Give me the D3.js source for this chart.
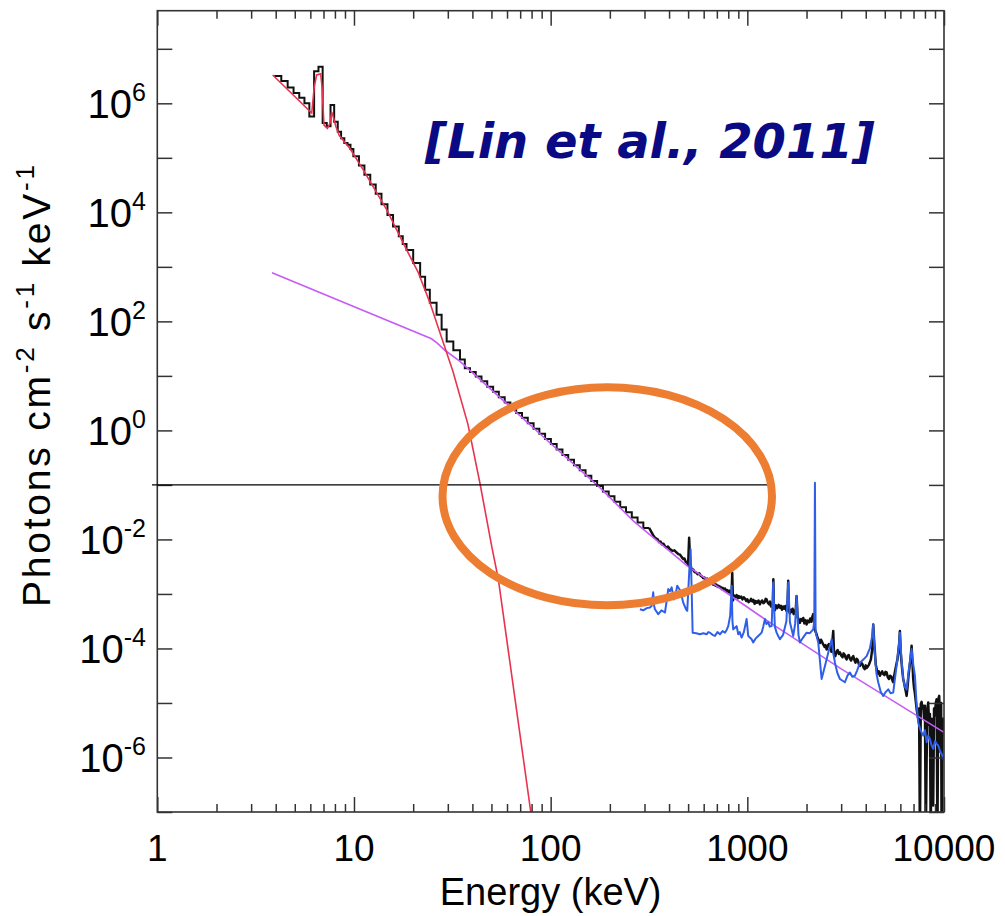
<!DOCTYPE html>
<meta charset="utf-8">
<style>
    body { margin: 0; background: #fff; }
    text { font-family: "Liberation Sans", Arial, sans-serif; fill: #000; }
    .tick line { stroke: #333; stroke-width: 1.5px; }
    .domain { display: none; }
</style>
<svg width="1005" height="916"></svg>
<script src="https://d3js.org/d3.v7.min.js"></script>
<script>

    // axis ticks and labels
    var energyTicks = [1, 10, 100, 1000, 10000];
    var energyTickLabels = ["1", "10", "100", "1000", "10000"];
    var fluxDecades = [-7, -6, -5, -4, -3, -2, -1, 0, 1, 2, 3, 4, 5, 6, 7];
    var fluxLabelExps = [-6, -4, -2, 0, 2, 4, 6];

    // observed count spectrum, low energy part (histogram: bin edges in keV, log10 flux per bin)
    var blackLoEdges = [3.93, 4.27, 4.6, 4.93, 5.27, 5.6, 5.93, 6.27, 6.6, 6.93, 7.27, 7.6, 7.93, 8.27, 8.6, 8.93,
        9.27, 9.6, 9.93, 10.6, 11.3, 12.1, 12.9, 13.8, 14.8, 15.8, 16.9, 17.7, 18.5, 20.0, 21.7, 23.0, 24.3, 26.3,
        27.9, 29.6, 32.0, 34.6, 36.6, 38.9, 41.6, 44.5, 47.6, 51.0, 54.5, 58.4, 62.4, 66.8, 71.5, 76.5, 81.9, 87.6,
        93.7, 100.3, 107.3, 114.8, 122.8, 131.4, 140.6, 150.5, 161, 172.3, 184.4, 197.3, 211.1, 225.8, 241.6, 258.6,
        276.7, 296, 316.7];
    var blackLoLogF = [6.50, 6.41, 6.29, 6.19, 6.10, 6.00, 5.76, 6.59, 6.67, 5.64, 5.58, 5.97, 5.66, 5.48, 5.36, 5.27,
        5.24, 5.16, 5.03, 4.86, 4.69, 4.51, 4.34, 4.15, 3.95, 3.74, 3.56, 3.42, 3.31, 3.07, 2.82, 2.58, 2.34, 2.12,
        1.85, 1.63, 1.47, 1.30, 1.14, 1.07, 0.99, 0.90, 0.80, 0.71, 0.61, 0.51, 0.42, 0.32, 0.23, 0.13, 0.03, -0.06,
        -0.16, -0.25, -0.35, -0.45, -0.54, -0.64, -0.73, -0.83, -0.93, -1.02, -1.12, -1.21, -1.31, -1.41, -1.50,
        -1.60, -1.69, -1.79];

    // observed spectrum, high energy part: [keV, log10 flux]
    var blackHi = [
        [316.7, -1.79], [325, -1.86], [332, -1.92], [339, -1.97], [350, -2.00], [356, -2.05], [362, -2.04],
        [368, -2.09], [375, -2.08], [382, -2.13], [389, -2.15], [395, -2.13], [402, -2.17], [409, -2.19],
        [416, -2.21], [426, -2.20], [437, -2.24], [446, -2.27], [455, -2.28], [463, -2.32], [472, -2.36],
        [479, -2.35], [486, -2.41], [493, -2.42], [500, -2.47], [506, -1.97], [512, -2.43], [521, -2.56],
        [530, -2.55], [540, -2.60], [550, -2.61], [560, -2.64], [570, -2.62], [580, -2.67], [588, -2.68],
        [597, -2.71], [606, -2.70], [615, -2.74], [624, -2.72], [634, -2.77], [643, -2.76], [652, -2.80],
        [661, -2.78], [671, -2.83], [680, -2.81], [690, -2.85], [697, -2.83], [705, -2.87], [713, -2.85],
        [722, -2.88], [731, -2.87], [740, -2.91], [750, -2.89], [760, -2.92], [770, -2.90], [780, -2.94],
        [790, -2.93], [800, -2.96], [809, -2.94], [818, -2.98], [825, -2.95], [832, -2.99], [838, -2.61],
        [845, -3.12], [857, -3.03], [870, -3.06], [882, -3.02], [895, -3.08], [906, -3.04], [917, -3.07],
        [931, -3.05], [945, -3.10], [960, -3.06], [975, -3.09], [987, -3.13], [1000, -3.10], [1015, -3.15],
        [1031, -3.13], [1045, -3.09], [1060, -3.14], [1075, -3.11], [1090, -3.18], [1105, -3.13], [1120, -3.16],
        [1140, -3.12], [1159, -3.19], [1175, -3.14], [1190, -3.12], [1207, -3.17], [1225, -3.15], [1240, -3.09],
        [1253, -3.10], [1270, -3.16], [1290, -3.19], [1305, -3.14], [1320, -3.23], [1335, -3.18], [1350, -3.21],
        [1356, -2.73], [1365, -3.24], [1381, -3.30], [1400, -3.21], [1420, -3.26], [1442, -3.20], [1465, -3.25],
        [1482, -3.22], [1500, -3.29], [1520, -3.23], [1540, -3.27], [1560, -3.22], [1580, -3.31], [1600, -3.25],
        [1614, -2.76], [1625, -3.30], [1647, -3.36], [1665, -3.29], [1680, -3.33], [1700, -3.27], [1720, -3.37],
        [1740, -3.31], [1760, -3.33], [1781, -3.04], [1800, -3.42], [1825, -3.47], [1851, -3.53], [1875, -3.46],
        [1900, -3.49], [1925, -3.44], [1950, -3.54], [1975, -3.48], [2002, -3.56], [2030, -3.49], [2060, -3.52],
        [2090, -3.45], [2120, -3.51], [2140, -3.42], [2163, -3.37], [2190, -3.46], [2207, -3.66], [2240, -3.72],
        [2265, -3.78], [2290, -3.82], [2315, -3.86], [2340, -3.90], [2370, -3.84], [2400, -3.88], [2435, -3.93],
        [2470, -3.97], [2500, -3.94], [2531, -4.02], [2565, -3.95], [2600, -3.92], [2640, -4.00], [2680, -4.06],
        [2734, -3.68], [2760, -4.10], [2800, -4.14], [2840, -4.06], [2880, -4.03], [2920, -4.10], [2957, -4.07],
        [3000, -4.13], [3050, -4.16], [3085, -4.09], [3120, -4.11], [3160, -4.17], [3198, -4.20], [3240, -4.13],
        [3280, -4.12], [3325, -4.19], [3370, -4.22], [3410, -4.17], [3455, -4.14], [3500, -4.21], [3550, -4.26],
        [3595, -4.19], [3640, -4.21], [3690, -4.29], [3737, -4.32], [3790, -4.26], [3850, -4.29], [3900, -4.35],
        [3950, -4.38], [4000, -4.31], [4042, -4.36], [4100, -4.33], [4150, -4.30], [4200, -4.25], [4250, -4.20],
        [4320, -4.00], [4367, -3.56], [4420, -3.90], [4500, -4.30], [4550, -4.38], [4600, -4.46], [4660, -4.42],
        [4722, -4.50], [4790, -4.45], [4850, -4.42], [4910, -4.47], [4980, -4.49], [5040, -4.43], [5108, -4.44],
        [5180, -4.53], [5250, -4.56], [5320, -4.50], [5400, -4.52], [5460, -4.58], [5517, -4.62], [5580, -4.50],
        [5650, -4.40], [5720, -4.30], [5800, -4.20], [5920, -3.90], [5967, -3.68], [6030, -4.10], [6120, -4.36],
        [6202, -4.56], [6260, -4.62], [6320, -4.70], [6390, -4.78], [6454, -4.87], [6530, -4.70], [6600, -4.50],
        [6750, -4.20], [6844, -3.95], [6900, -4.20], [6973, -4.56], [7040, -4.72], [7100, -4.80], [7180, -4.95],
        [7256, -5.11], [7320, -5.20], [7394, -5.29], [7470, -5.10], [7543, -7.5], [7620, -5.02], [7694, -4.98],
        [7770, -5.10], [7841, -5.05], [7920, -5.30], [7998, -5.05], [8080, -7.5], [8160, -6.03], [8240, -5.10],
        [8313, -4.99], [8400, -5.40], [8480, -5.20], [8560, -7.5], [8650, -5.29], [8730, -5.30], [8813, -6.88],
        [8900, -5.10], [8990, -5.23], [9080, -5.00], [9172, -4.93], [9260, -7.5], [9343, -5.00], [9400, -4.90],
        [9454, -4.87], [9530, -5.30], [9610, -5.90], [9670, -5.00], [9723, -7.5], [9810, -5.60], [9906, -5.29],
        [10000, -5.50]
    ];

    // background / blue spectrum (keV, log10 flux)
    var blueE = [284.4, 295.6, 308, 319.7, 326, 332.3, 336, 339, 352.4, 366, 381.2, 390, 396.2, 404, 412.3, 423.5,
        432, 440.2, 449, 458.1, 472.2, 487.4, 494.9, 506.5, 514.9, 521, 527.2, 550, 574.1, 598, 621.1, 633, 645.6,
        665, 684.5, 705, 725.7, 748, 769.4, 785, 799.8, 818, 832.3, 840, 848, 865, 882.5, 899.2, 915, 935.6, 960,
        991.8, 1010.6, 1030, 1051.7, 1071.5, 1100, 1136, 1160, 1182, 1205, 1229, 1250, 1277, 1300, 1329, 1354, 1380,
        1409, 1440, 1465, 1520, 1580, 1614, 1647, 1712, 1750, 1781, 1820, 1851, 1920, 2002, 2080, 2163, 2190, 2207,
        2225, 2294, 2386, 2450, 2531, 2610, 2684, 2740, 2789, 2870, 2957, 3135, 3230, 3323, 3420, 3524, 3620, 3737,
        3900, 4042, 4200, 4300, 4367, 4450, 4530, 4630, 4770, 4909, 5050, 5204, 5350, 5517, 5700, 5880, 5967, 6080,
        6202, 6320, 6454, 6620, 6844, 6980, 7114, 7250, 7394, 7600, 7841, 8000, 8160, 8313, 8480, 8650, 8813, 9000,
        9172, 9343, 9600, 9800, 10000];
    var blueLogF = [-3.28, -3.30, -3.26, -3.25, -3.22, -2.97, -3.22, -3.28, -3.37, -3.30, -3.34, -3.10, -2.91, -2.95,
        -2.88, -3.10, -3.00, -2.85, -2.90, -2.95, -3.16, -3.28, -3.31, -2.60, -2.18, -2.90, -3.71, -3.72, -3.74, -3.72,
        -3.74, -3.70, -3.71, -3.75, -3.77, -3.70, -3.74, -3.68, -3.71, -3.66, -3.59, -3.40, -2.85, -3.50, -3.65, -3.62,
        -3.59, -3.74, -3.70, -3.80, -3.70, -3.46, -3.77, -3.80, -3.83, -3.89, -3.82, -3.77, -3.74, -3.71, -3.60, -3.46,
        -3.55, -3.52, -3.60, -3.59, -2.79, -3.60, -3.71, -3.78, -3.83, -3.75, -3.50, -2.79, -3.52, -3.77, -3.55, -3.04,
        -3.75, -3.89, -3.80, -3.71, -3.72, -3.65, -3.50, -0.96, -3.70, -3.89, -4.56, -4.40, -4.20, -4.00, -3.83, -4.10,
        -4.26, -4.45, -4.56, -4.62, -4.50, -4.44, -4.52, -4.50, -4.40, -4.26, -4.20, -4.14, -4.00, -3.80, -3.56, -4.10,
        -4.45, -4.62, -4.80, -4.87, -4.80, -4.75, -4.82, -4.81, -4.40, -4.00, -3.71, -4.20, -4.56, -4.70, -4.75, -4.40,
        -4.01, -4.30, -4.50, -5.00, -5.36, -5.50, -5.60, -5.50, -5.72, -5.60, -5.66, -5.78, -5.84, -5.70, -5.75, -5.78,
        -5.90, -5.96, -6.06];

    // thermal model (red)
    var thermalE = [3.86, 6.10, 6.28, 6.46, 6.77, 6.88, 7.04, 7.32, 7.55, 7.70, 7.85, 8.10, 8.42, 9.54, 11.15, 14.66,
        18.53, 21.15, 24.34, 27.37, 31.87, 37.98, 43.71, 50.30, 54.2, 65.8, 79.1, 88.2];
    var thermalLogF = [6.52, 5.82, 6.30, 6.52, 6.54, 6.30, 5.60, 5.54, 5.63, 5.84, 5.75, 5.57, 5.41, 5.17, 4.78, 4.05,
        3.31, 2.91, 2.34, 1.79, 1.08, 0.11, -0.97, -2.15, -2.73, -4.91, -6.98, -8.3];

    // non-thermal model (purple)
    var powerE = [3.83, 24.8, 26.5, 29, 34.6, 100, 178, 263, 495, 1158, 1465, 3016, 10000];
    var powerLogF = [2.89, 1.68, 1.60, 1.47, 1.267, -0.24, -1.05, -1.66, -2.487, -3.40, -3.646, -4.38, -5.54];

    // annotations
    var refLevel = 0.1;
    var refFrom = 0.94, refTo = 1272;
    var ringCenter = [194, 0.062], ringHalfDecadesX = 0.8376, ringHalfDecadesY = 2.0;

    var svg = d3.select("svg"),
        margin = {top: 10.7, right: 61, bottom: 104, left: 157.3},
        width = +svg.attr("width"),
        height = +svg.attr("height");

    var x = d3.scaleLog().domain([1, 10000]).range([margin.left, width - margin.right]);
    var y = d3.scaleLog().domain([1e-7, 5e7]).range([height - margin.bottom, margin.top]);

    svg.append("defs").append("clipPath").attr("id", "plot")
        .append("rect")
        .attr("x", x(1)).attr("y", y(5e7))
        .attr("width", x(10000) - x(1)).attr("height", y(1e-7) - y(5e7));

    function pairs(E, L) { return E.map(function(e, i) { return [e, Math.pow(10, L[i])]; }); }

    var line = d3.line().x(function(d) { return x(d[0]); }).y(function(d) { return y(d[1]); });
    var step = d3.line().curve(d3.curveStepAfter).x(function(d) { return x(d[0]); }).y(function(d) { return y(d[1]); });

    var hist = pairs(blackLoEdges.slice(0, blackLoLogF.length), blackLoLogF);
    hist.push([blackLoEdges[blackLoEdges.length - 1], Math.pow(10, blackLoLogF[blackLoLogF.length - 1])]);

    var plot = svg.append("g").attr("clip-path", "url(#plot)");

    plot.append("path").attr("d", step(hist))
        .attr("fill", "none").attr("stroke", "#111").attr("stroke-width", 2);
    plot.append("path")
        .attr("d", line(blackHi.map(function(d) { return [d[0], Math.pow(10, d[1])]; })))
        .attr("fill", "none").attr("stroke", "#111").attr("stroke-width", 2.5).attr("stroke-linejoin", "round");
    plot.append("path").attr("d", line(pairs(powerE, powerLogF)))
        .attr("fill", "none").attr("stroke", "#c65bf7").attr("stroke-width", 1.6);
    plot.append("path").attr("d", line(pairs(blueE, blueLogF)))
        .attr("fill", "none").attr("stroke", "#2f5fe8").attr("stroke-width", 2).attr("stroke-linejoin", "round");
    plot.append("path").attr("d", line(pairs(thermalE, thermalLogF)))
        .attr("fill", "none").attr("stroke", "#e8344e").attr("stroke-width", 1.6);

    // frame
    svg.append("rect")
        .attr("x", x(1)).attr("y", y(5e7))
        .attr("width", x(10000) - x(1)).attr("height", y(1e-7) - y(5e7))
        .attr("fill", "none").attr("stroke", "#333").attr("stroke-width", 1.6);

    // ticks
    var minorTicks = [];
    [1, 10, 100, 1000].forEach(function(d) { for (var k = 2; k < 10; k++) minorTicks.push(d * k); });
    var decadeVals = fluxDecades.map(function(e) { return Math.pow(10, e); });

    svg.append("g").attr("transform", "translate(0," + y(1e-7) + ")")
        .call(d3.axisBottom(x).tickValues(energyTicks).tickSize(-15).tickFormat(""));
    svg.append("g").attr("transform", "translate(0," + y(1e-7) + ")")
        .call(d3.axisBottom(x).tickValues(minorTicks).tickSize(-8).tickFormat(""));
    svg.append("g").attr("transform", "translate(0," + y(5e7) + ")")
        .call(d3.axisTop(x).tickValues(energyTicks).tickSize(-15).tickFormat(""));
    svg.append("g").attr("transform", "translate(0," + y(5e7) + ")")
        .call(d3.axisTop(x).tickValues(minorTicks).tickSize(-8).tickFormat(""));
    svg.append("g").attr("transform", "translate(" + x(1) + ",0)")
        .call(d3.axisLeft(y).tickValues(decadeVals).tickSize(-15).tickFormat(""));
    svg.append("g").attr("transform", "translate(" + x(10000) + ",0)")
        .call(d3.axisRight(y).tickValues(decadeVals).tickSize(-15).tickFormat(""));

    // reference level line
    svg.append("line")
        .attr("x1", x(refFrom)).attr("x2", x(refTo))
        .attr("y1", y(refLevel)).attr("y2", y(refLevel))
        .attr("stroke", "#000").attr("stroke-width", 1.2);

    // x tick labels
    svg.selectAll(".xlab").data(energyTicks).enter().append("text")
        .attr("class", "xlab")
        .attr("x", function(d) { return x(d); })
        .attr("y", 861)
        .attr("text-anchor", "middle")
        .style("font-size", "37px")
        .text(function(d, i) { return energyTickLabels[i]; });

    // y tick labels
    var ylab = svg.selectAll(".ylab").data(fluxLabelExps).enter().append("text")
        .attr("class", "ylab")
        .attr("x", 146)
        .attr("y", function(d) { return y(Math.pow(10, d)) + 15; })
        .attr("text-anchor", "end")
        .style("font-size", "40px");
    ylab.append("tspan").text("10");
    ylab.append("tspan").attr("dy", -17).style("font-size", "25px").text(function(d) { return d; });

    // axis titles
    svg.append("text")
        .attr("x", x(100)).attr("y", 905)
        .attr("text-anchor", "middle")
        .style("font-size", "38px")
        .text("Energy (keV)");

    var yt = svg.append("text")
        .attr("transform", "translate(50," + 386 + ") rotate(-90)")
        .attr("text-anchor", "middle")
        .attr("textLength", 442)
        .attr("lengthAdjust", "spacing")
        .style("font-size", "39px");
    yt.append("tspan").text("Photons cm");
    yt.append("tspan").attr("dy", -16).style("font-size", "26px").text("-2");
    yt.append("tspan").attr("dy", 16).text(" s");
    yt.append("tspan").attr("dy", -16).style("font-size", "26px").text("-1");
    yt.append("tspan").attr("dy", 16).text(" keV");
    yt.append("tspan").attr("dy", -16).style("font-size", "26px").text("-1");

    // citation
    svg.append("text")
        .attr("x", x(23)).attr("y", y(1e5))
        .style("font-family", "'DejaVu Sans', sans-serif")
        .style("font-weight", "bold")
        .style("font-style", "italic")
        .style("font-size", "48px")
        .style("fill", "#0a0a84")
        .text("[Lin et al., 2011]");

    // highlight ring
    var cx = x(ringCenter[0]), cy = y(ringCenter[1]);
    svg.append("ellipse")
        .attr("cx", cx).attr("cy", cy)
        .attr("rx", x(ringCenter[0] * Math.pow(10, ringHalfDecadesX)) - cx)
        .attr("ry", y(ringCenter[1] / Math.pow(10, ringHalfDecadesY)) - cy)
        .attr("fill", "none")
        .attr("stroke", "#ed7d31")
        .attr("stroke-width", 8);

</script>
